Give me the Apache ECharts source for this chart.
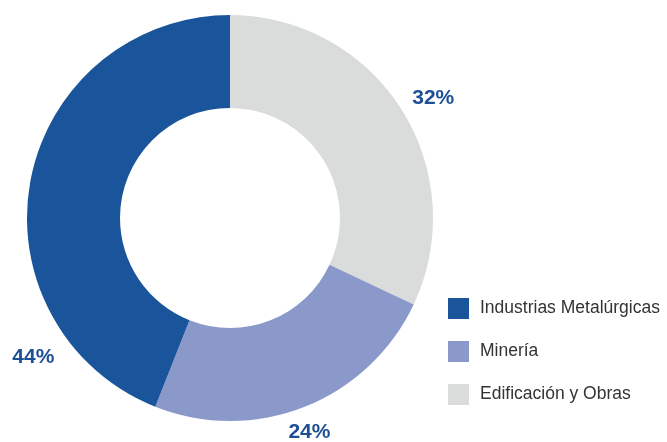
<!DOCTYPE html>
<html>
<head>
<meta charset="utf-8">
<script src="https://cdn.jsdelivr.net/npm/echarts@6/dist/echarts.min.js"></script>
<style>
  html, body { margin: 0; padding: 0; background: #fff; }
  #chart { width: 667px; height: 442px; }
</style>
</head>
<body>
<div id="chart"></div>
<script>
// Share of each sector, drawn clockwise from 12 o'clock
const categories = ['Edificación y Obras', 'Minería', 'Industrias Metalúrgicas'];
const shares = [32, 24, 44];
const colors = ['#dadbdb', '#8a99c9', '#1a549b'];
const legendOrder = ['Industrias Metalúrgicas', 'Minería', 'Edificación y Obras'];

const CX = 230, CY = 218, R_IN = 110, R_OUT = 203;
// Where along each slice (0..1) its percentage sits, and how far from the centre
const labelAlong = [0.516, 0.514, 0.209];
const labelRadius = [236, 228, 241];

const total = shares.reduce((a, b) => a + b, 0);
const starts = [];
shares.reduce((acc, v) => { starts.push(acc); return acc + v; }, 0);

const chart = echarts.init(document.getElementById('chart'), null, { renderer: 'canvas' });
chart.setOption({
  animation: false,
  color: colors,
  legend: {
    data: legendOrder,
    orient: 'vertical',
    left: 443,
    top: 293,
    itemWidth: 21,
    itemHeight: 21,
    itemGap: 22,
    icon: 'rect',
    selectedMode: false,
    textStyle: {
      fontFamily: 'Liberation Sans, Arial, sans-serif',
      fontSize: 17.5,
      color: '#333333',
      padding: [0, 0, 0, 6]
    }
  },
  series: [{
    type: 'pie',
    center: [CX, CY],
    radius: [R_IN, R_OUT],
    startAngle: 90,
    clockwise: true,
    avoidLabelOverlap: false,
    silent: true,
    itemStyle: { borderWidth: 0 },
    label: {
      show: true,
      position: 'outside',
      formatter: '{c}%',
      fontFamily: 'Liberation Sans, Arial, sans-serif',
      fontSize: 21,
      fontWeight: 'bold',
      color: '#1d4f96'
    },
    labelLine: { show: false },
    labelLayout: function (p) {
      const i = p.dataIndex;
      const frac = (starts[i] + shares[i] * labelAlong[i]) / total;
      const a = frac * Math.PI * 2;
      return {
        x: CX + labelRadius[i] * Math.sin(a),
        y: CY - labelRadius[i] * Math.cos(a),
        align: 'center',
        verticalAlign: 'middle'
      };
    },
    data: categories.map((name, i) => ({ name: name, value: shares[i] }))
  }]
});
</script>
</body>
</html>
